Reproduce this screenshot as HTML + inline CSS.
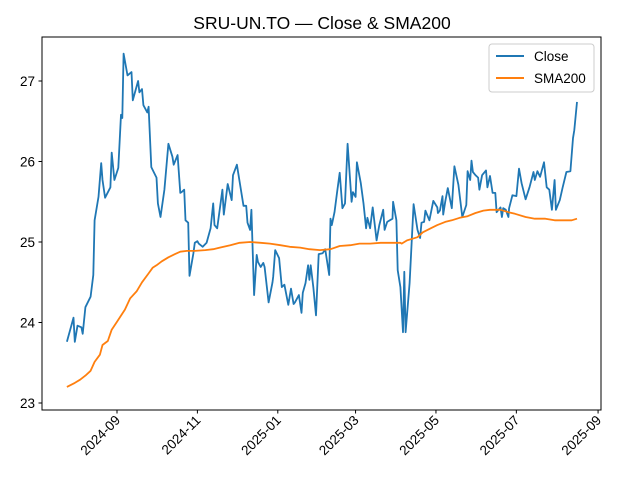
<!DOCTYPE html>
<html><head><meta charset="utf-8"><style>
body{margin:0;background:#fff}
svg{display:block;font-family:"Liberation Sans","DejaVu Sans",sans-serif}
</style></head><body>
<svg id="chart" width="640" height="480" viewBox="0 0 640 480" xmlns="http://www.w3.org/2000/svg">
<rect x="0" y="0" width="640" height="480" fill="#fff"/>
<text x="322" y="29" text-anchor="middle" font-size="17.5" fill="#000">SRU-UN.TO — Close &amp; SMA200</text>
<g id="grid"></g>
<g id="series"></g>
<rect x="42" y="37" width="559" height="373" fill="none" stroke="#000" stroke-width="1"/>
<g id="axes"></g>
<g>
<rect x="489" y="44" width="105" height="48" rx="3" fill="#fff" fill-opacity="0.8" stroke="#ccc"/>
<line x1="496" y1="56" x2="524" y2="56" stroke="#1f77b4" stroke-width="2"/>
<text x="534" y="61" font-size="13.5">Close</text>
<line x1="496" y1="78" x2="524" y2="78" stroke="#ff7f0e" stroke-width="2"/>
<text x="534" y="83" font-size="13.5">SMA200</text>
</g>
</svg>
<script>
// days since 2024-09-01
const closeDays=[-38,-33,-32,-30,-27,-26,-24,-20,-18,-17,-14,-12,-11,-9,-5,-4,-2,1,3,4,5,8,11,12,16,17,19,20,23,24,26,30,31,33,36,39,42,43,46,48,49,51,52,54,55,58,59,61,62,65,68,71,73,74,76,80,81,84,87,88,91,93,96,98,99,101,102,104,106,107,109,111,112,115,118,118.5,120,123,125,127,130,132,134,135,138,140,141,143,145,146,147,149,151,153,156,158,161,162,163,165,167,169,171,173,175,178,179,181,182,185,187,189,190,192,194,197,199,202,203,205,209,209.5,212,213,215,217,218,219,222,225,228,230,231,233,234,237,240,243,243.5,245,247,247.5,249,251,254,256,259,262,265,266,268,269,270,272,274,275,277,280,281,283,285,287,288,291,292,293,295,297,297.5,300,303,305,307,310,313,316,317,319,321,324,326,328,330,332,333,336,338,341,344,346,347,349];
const closeVals=[23.76,24.06,23.76,23.96,23.94,23.86,24.19,24.32,24.59,25.27,25.56,25.98,25.77,25.55,25.68,26.11,25.77,25.92,26.58,26.54,27.34,27.07,27.11,26.76,27.00,26.86,26.90,26.70,26.61,26.68,25.93,25.80,25.48,25.31,25.65,26.22,26.06,25.96,26.08,25.61,25.62,25.65,25.27,25.24,24.58,24.86,24.99,25.01,24.98,24.94,24.99,25.17,25.48,25.21,25.17,25.65,25.34,25.72,25.52,25.83,25.96,25.75,25.45,25.45,25.24,25.15,25.40,24.34,24.84,24.75,24.69,24.74,24.69,24.25,24.50,24.57,24.90,24.80,24.44,24.47,24.22,24.42,24.23,24.25,24.34,24.12,24.37,24.49,24.71,24.53,24.71,24.43,24.09,24.85,24.86,24.91,24.59,25.29,25.21,25.37,25.62,25.86,25.42,25.48,26.22,25.50,25.62,25.56,25.99,25.73,25.48,25.17,25.30,25.17,25.43,25.02,25.21,25.40,25.15,25.25,25.29,25.50,25.27,24.65,24.44,23.88,24.63,23.88,24.49,25.47,25.15,25.05,25.24,25.25,25.39,25.27,25.51,25.43,25.36,25.39,25.57,25.34,25.50,25.67,25.42,25.94,25.71,25.31,25.46,25.88,25.77,26.01,25.87,25.83,25.80,25.65,25.83,25.89,25.68,25.82,25.61,25.61,25.37,25.43,25.31,25.42,25.40,25.31,25.42,25.58,25.57,25.91,25.73,25.53,25.68,25.87,25.77,25.88,25.81,25.99,25.68,25.65,25.40,25.77,25.40,25.52,25.67,25.87,25.88,26.29,26.39,26.74];
const smaDays=[-38,-32,-28,-24,-20,-17,-13,-11,-7,-4,0,6,10,15,19,24,27,30,34,39,44,48,53,59,67,73,78,86,93,101,109,116,124,131,139,146,154,162,169,177,184,192,200,207,215,216,220,224,228,232,238,243,249,254,260,266,272,278,283,291,297,302,310,317,325,332,340,345,349];
const smaVals=[23.20,23.25,23.29,23.34,23.40,23.51,23.60,23.72,23.77,23.91,24.01,24.16,24.30,24.39,24.50,24.61,24.68,24.71,24.76,24.81,24.85,24.88,24.89,24.89,24.90,24.91,24.93,24.96,24.99,25.00,24.99,24.98,24.96,24.94,24.93,24.91,24.90,24.91,24.95,24.96,24.98,24.98,24.99,24.99,24.99,24.98,25.02,25.04,25.06,25.12,25.17,25.21,25.25,25.27,25.30,25.32,25.36,25.39,25.40,25.40,25.37,25.35,25.31,25.29,25.29,25.27,25.27,25.27,25.29];
const yTicks=[23,24,25,26,27];
const xTickLabels=["2024-09","2024-11","2025-01","2025-03","2025-05","2025-07","2025-09"];
const xTickDays=[0,61,122,181,242,303,365];

const NS="http://www.w3.org/2000/svg";
function xs(d){return 117+d*1.318;}
function ys(v){return 403-(v-23)*80.5;}
function mk(tag,attrs,parent){const e=document.createElementNS(NS,tag);for(const k in attrs)e.setAttribute(k,attrs[k]);parent.appendChild(e);return e;}
const axes=document.getElementById('axes'),series=document.getElementById('series');
yTicks.forEach(v=>{
  const y=ys(v);
  const t=mk('line',{x1:38.5,x2:42,y1:y,y2:y,stroke:'#000'},axes);
  
  
  const l=mk('text',{x:35,y:y+5,'text-anchor':'end','font-size':'13.5'},axes);
  l.textContent=String(v);
  
  
});
xTickDays.forEach((d,i)=>{
  const x=xs(d);
  const t=mk('line',{x1:x,x2:x,y1:410,y2:413.5,stroke:'#000'},axes);
  
  
  const l=mk('text',{x:x+4,y:421,'text-anchor':'end','font-size':'13.5',transform:`rotate(-45 ${x+4} 421)`},axes);
  l.textContent=xTickLabels[i];
  
  
});
function path(days,vals){
  return days.map((d,i)=>(i?'L':'M')+xs(d).toFixed(1)+','+ys(vals[i]).toFixed(1)).join('');
}
const pc=mk('path',{d:path(closeDays,closeVals),fill:'none',stroke:'#1f77b4','stroke-width':1.8,'stroke-linejoin':'round'},series);


const ps=mk('path',{d:path(smaDays,smaVals),fill:'none',stroke:'#ff7f0e','stroke-width':1.8,'stroke-linejoin':'round'},series);


</script>
</body></html>
